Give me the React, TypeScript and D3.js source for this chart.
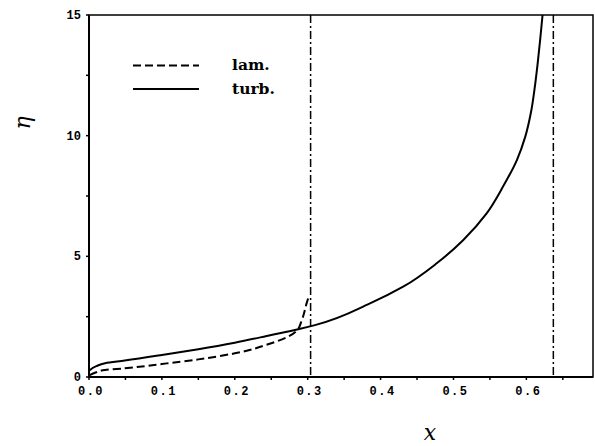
import React from "react";
import * as d3 from "d3";

const turbX = [0, 0.01, 0.022, 0.049, 0.1, 0.15, 0.2, 0.25, 0.287, 0.31, 0.3855, 0.431, 0.477, 0.5135, 0.5455, 0.568, 0.587, 0.5985, 0.6065, 0.6115, 0.6155, 0.619, 0.6222];
const turbY = [0.26, 0.45, 0.57, 0.68, 0.91, 1.15, 1.42, 1.74, 1.98, 2.15, 3.05, 3.74, 4.71, 5.68, 6.78, 7.89, 8.99, 9.96, 11.0, 12.0, 13.0, 14.0, 15];
const lamX = [0.001, 0.01, 0.022, 0.049, 0.1, 0.15, 0.2, 0.25, 0.273, 0.285, 0.292, 0.2985, 0.302];
const lamY = [0.08, 0.2, 0.29, 0.36, 0.54, 0.73, 0.98, 1.4, 1.67, 1.92, 2.36, 3.05, 3.4];
const vLines = [0.304, 0.637];
const xTickLabels = ["0.0", "0.1", "0.2", "0.3", "0.4", "0.5", "0.6"];
const xTicks = [0, 0.1, 0.2, 0.3, 0.4, 0.5, 0.6];
const xMinorTicks = [0.05, 0.15, 0.25, 0.35, 0.45, 0.55, 0.65];
const yTickLabels = ["0", "5", "10", "15"];
const yTicks = [0, 5, 10, 15];
const yMinorTicks = [2.5, 7.5, 12.5];
const legendLabels = ["lam.", "turb."];

export default function App() {
  const W = 595, H = 446;
  const L = 89, R = 593, T = 15, B = 377;
  const x = d3.scaleLinear().domain([0, 0.6914]).range([L, R]);
  const y = d3.scaleLinear().domain([0, 15]).range([B, T]);
  const line = d3.line<[number, number]>().x(d => x(d[0])).y(d => y(d[1])).curve(d3.curveMonotoneY);
  const turb = line(turbX.map((v, i) => [v, turbY[i]]) as [number, number][]) || "";
  const lam = line(lamX.map((v, i) => [v, lamY[i]]) as [number, number][]) || "";
  const tickFont = "'Liberation Mono', 'DejaVu Sans Mono', monospace";
  return (
    <svg width={W} height={H} style={{ position: "absolute", left: 0, top: 0, background: "#fff" }}>
      <rect x={0} y={0} width={W} height={H} fill="#fff" />
      <defs>
        <clipPath id="plot"><rect x={L} y={T} width={R - L} height={B - T} /></clipPath>
      </defs>
      <g clipPath="url(#plot)">
        {vLines.map((v, i) => (
          <line key={i} x1={x(v)} x2={x(v)} y1={T} y2={B} stroke="#000" strokeWidth={1.5} strokeDasharray="8,3,2,3" />
        ))}
        <path d={lam} fill="none" stroke="#000" strokeWidth={2} strokeDasharray="8,4" />
        <path d={turb} fill="none" stroke="#000" strokeWidth={2} />
      </g>
      <rect x={L} y={T} width={R - L} height={B - T} fill="none" stroke="#000" strokeWidth={1.5} />
      <line x1={L} x2={L} y1={T} y2={B} stroke="#000" strokeWidth={2} />
      <line x1={L} x2={R} y1={B} y2={B} stroke="#000" strokeWidth={2} />
      {xTicks.concat(xMinorTicks).map((t, i) => (
        <line key={"xt" + i} x1={x(t)} x2={x(t)} y1={B} y2={B + 3} stroke="#000" strokeWidth={1.5} />
      ))}
      {yTicks.concat(yMinorTicks).map((t, i) => (
        <line key={"yt" + i} x1={L - 3} x2={L} y1={y(t)} y2={y(t)} stroke="#000" strokeWidth={1.5} />
      ))}
      {xTicks.map((t, i) => (
        <text key={"xl" + i} x={x(t) + 2} y={B + 18} textAnchor="middle" fontFamily={tickFont} fontWeight="bold" fontSize={12} letterSpacing={1.5}>
          {xTickLabels[i]}
        </text>
      ))}
      {yTicks.map((t, i) => (
        <text key={"yl" + i} x={L - 8} y={y(t) + 4} textAnchor="end" fontFamily={tickFont} fontWeight="bold" fontSize={12}>
          {yTickLabels[i]}
        </text>
      ))}
      <line x1={133} x2={199} y1={65.5} y2={65.5} stroke="#000" strokeWidth={2} strokeDasharray="8,4" />
      <line x1={133} x2={199} y1={89} y2={89} stroke="#000" strokeWidth={2} />
      <text x={232} y={70} fontFamily="'DejaVu Serif', serif" fontWeight="bold" fontSize={15.5}>{legendLabels[0]}</text>
      <text x={232} y={94} fontFamily="'DejaVu Serif', serif" fontWeight="bold" fontSize={15.5}>{legendLabels[1]}</text>
      <text x={430} y={440} textAnchor="middle" fontFamily="'DejaVu Serif', serif" fontStyle="italic" fontSize={22}>x</text>
      <text transform="translate(30,123) rotate(-90)" textAnchor="middle" fontFamily="'DejaVu Serif', serif" fontStyle="italic" fontSize={22}>η</text>
    </svg>
  );
}
